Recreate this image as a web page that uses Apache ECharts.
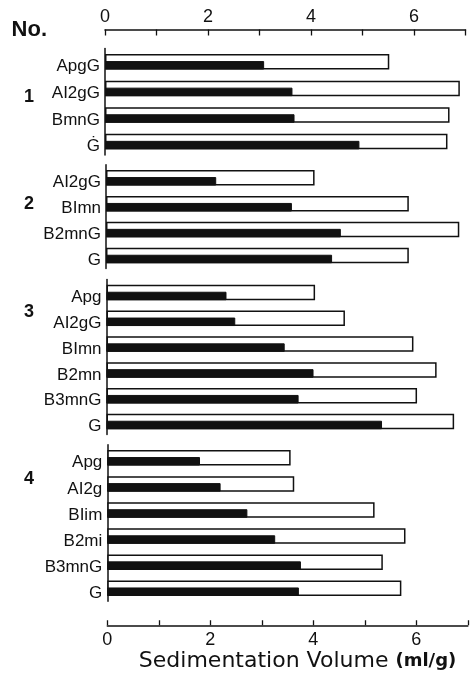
<!DOCTYPE html>
<html>
<head>
<meta charset="utf-8">
<script src="https://cdn.jsdelivr.net/npm/echarts@6/dist/echarts.min.js"></script>
<style>
  html, body { margin: 0; padding: 0; background: #fff; }
  #chart { width: 471px; height: 677px; }
</style>
</head>
<body>
<div id="chart"></div>
<script>
// Sedimentation volume (ml/g) per sample, four sample groups.
// "inner" = solid part of each bar, "outer" = full length of the open bar.
const group1Labels = ['ApgG', 'AI2gG', 'BmnG', 'Ġ'];
const group1Inner  = [3.09, 3.64, 3.68, 4.94];
const group1Outer  = [5.52, 6.89, 6.69, 6.65];

const group2Labels = ['AI2gG', 'BImn', 'B2mnG', 'G'];
const group2Inner  = [2.14, 3.61, 4.56, 4.39];
const group2Outer  = [4.05, 5.88, 6.86, 5.88];

const group3Labels = ['Apg', 'AI2gG', 'BImn', 'B2mn', 'B3mnG', 'G'];
const group3Inner  = [2.33, 2.50, 3.46, 4.02, 3.73, 5.35];
const group3Outer  = [4.05, 4.63, 5.96, 6.41, 6.03, 6.75];

const group4Labels = ['Apg', 'AI2g', 'BIim', 'B2mi', 'B3mnG', 'G'];
const group4Inner  = [1.80, 2.20, 2.72, 3.26, 3.76, 3.72];
const group4Outer  = [3.56, 3.63, 5.19, 5.79, 5.35, 5.71];

const groupNumbers = ['1', '2', '3', '4'];
const axisTicks = [0, 1, 2, 3, 4, 5, 6, 7];   // value axis ticks; even ones are labelled

const groups = [
  { labels: group1Labels, inner: group1Inner, outer: group1Outer },
  { labels: group2Labels, inner: group2Inner, outer: group2Outer },
  { labels: group3Labels, inner: group3Inner, outer: group3Outer },
  { labels: group4Labels, inner: group4Inner, outer: group4Outer }
];

const FONT = '"Liberation Sans", Arial, Helvetica, sans-serif';
const WIDE_FONT = '"DejaVu Sans", Verdana, sans-serif';
const INK = '#111';

// one panel per group
const gridBoxes = [
  { left: 105,   top: 48.5,   height: 106.4 },
  { left: 106,   top: 164.85, height: 103.6 },
  { left: 106.5, top: 279.6,  height: 154.8 },
  { left: 107.3, top: 444.75, height: 156.5 }
];
const PLOT_W = 360.5;
const OUTER_W = 15.5;
const INNER_W = 8.5;

// vertical nudge of each group number relative to its second row (px, + = down)
const numberShift = [9, 0, -6, -5];

const grid = gridBoxes.map(b => ({
  left: b.left, top: b.top, width: PLOT_W, height: b.height,
  containLabel: false, outerBoundsMode: 'none'
}));

const valueAxisBase = {
  type: 'value',
  min: axisTicks[0],
  max: axisTicks[axisTicks.length - 1],
  interval: 1,
  splitLine: { show: false },
  axisLine: { show: true, lineStyle: { color: INK, width: 1.5 } },
  axisTick: { show: true, inside: true, length: 6, lineStyle: { color: INK, width: 1.3 } },
  axisLabel: {
    show: true,
    color: INK,
    fontFamily: FONT,
    fontSize: 18,
    formatter: v => (axisTicks.indexOf(v) % 2 === 0 ? String(v) : '')
  }
};

const xAxis = gridBoxes.map((b, i) => {
  if (i === 0) {
    return Object.assign({}, valueAxisBase, {
      gridIndex: 0, position: 'top', offset: 19,
      axisLabel: Object.assign({}, valueAxisBase.axisLabel, { margin: 3 }),
      name: 'No.', nameLocation: 'start', nameGap: 58,
      nameTextStyle: { color: INK, fontFamily: FONT, fontSize: 22, fontWeight: 'bold',
                       verticalAlign: 'middle' }
    });
  }
  if (i === 3) {
    return Object.assign({}, valueAxisBase, {
      gridIndex: 3, position: 'bottom', offset: 24,
      axisTick: Object.assign({}, valueAxisBase.axisTick, { length: 5 }),
      axisLabel: Object.assign({}, valueAxisBase.axisLabel, { margin: 6 }),
      name: '{t|Sedimentation Volume }{u|(ml/g)}', nameLocation: 'middle', nameGap: 25,
      nameTextStyle: {
        color: INK, fontFamily: WIDE_FONT, padding: [0, 0, 0, 20],
        rich: {
          t: { fontSize: 22, fontFamily: WIDE_FONT, color: INK },
          u: { fontSize: 18, fontFamily: WIDE_FONT, color: INK, fontWeight: 'bold' }
        }
      }
    });
  }
  return Object.assign({}, valueAxisBase, {
    gridIndex: i, show: false
  });
});

const yAxis = [];
groups.forEach((g, i) => {
  // sample names, set slightly below the bar centre
  yAxis.push({
    type: 'category', gridIndex: i, inverse: true, data: g.labels,
    position: 'left',
    axisLine: { show: true, lineStyle: { color: INK, width: 1.5 } },
    axisTick: { show: false },
    axisLabel: {
      color: INK, fontFamily: FONT, fontSize: 17, margin: 5,
      verticalAlign: 'top', lineHeight: 10
    }
  });
  // group number beside the second row
  const s = numberShift[i];
  yAxis.push({
    type: 'category', gridIndex: i, inverse: true, data: g.labels,
    position: 'left', offset: 0,
    axisLine: { show: false }, axisTick: { show: false },
    axisLabel: {
      color: INK, fontFamily: FONT, fontSize: 18, fontWeight: 'bold',
      margin: gridBoxes[i].left - 34,
      verticalAlign: s > 0 ? 'top' : (s < 0 ? 'bottom' : 'middle'),
      lineHeight: s === 0 ? 18 : Math.abs(s) * 2,
      formatter: (v, idx) => (idx === 1 ? groupNumbers[i] : '')
    }
  });
});

const series = [];
groups.forEach((g, i) => {
  series.push({
    type: 'bar', name: 'total ' + groupNumbers[i],
    xAxisIndex: i, yAxisIndex: i * 2,
    data: g.outer,
    barWidth: OUTER_W,
    barGap: (-INNER_W / OUTER_W * 100).toFixed(2) + '%',
    itemStyle: { color: '#fff', borderColor: INK, borderWidth: 1.5 },
    silent: true, animation: false
  });
  series.push({
    type: 'bar', name: 'solid ' + groupNumbers[i],
    xAxisIndex: i, yAxisIndex: i * 2,
    data: g.inner,
    barWidth: INNER_W,
    itemStyle: { color: INK, borderColor: INK, borderWidth: 1 },
    silent: true, animation: false
  });
});

const chart = echarts.init(document.getElementById('chart'), null, { renderer: 'canvas' });
chart.setOption({
  backgroundColor: '#fff',
  animation: false,
  grid, xAxis, yAxis, series
});
</script>
</body>
</html>
